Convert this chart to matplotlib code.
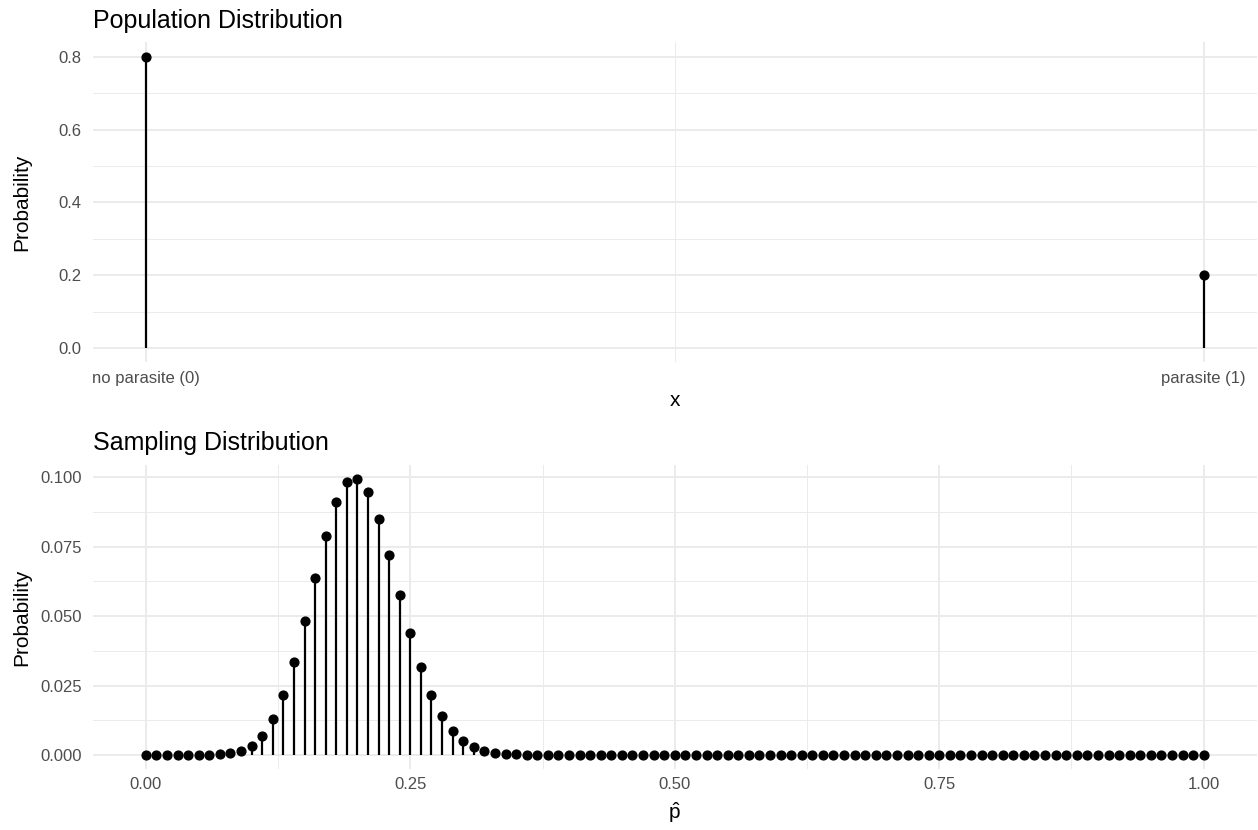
import matplotlib
matplotlib.use("Agg")
from matplotlib import pyplot as plt
from matplotlib.ticker import MultipleLocator, FixedLocator

plt.rcParams['font.family'] = ['Liberation Sans', 'DejaVu Sans']
plt.rcParams['mathtext.fontset'] = 'custom'
plt.rcParams['mathtext.rm'] = 'Liberation Sans'
plt.rcParams['mathtext.it'] = 'Liberation Sans:italic'

# population distribution
pop_x = [0, 1]
pop_prob = [0.8, 0.2]
pop_labels = ["no parasite (0)", "parasite (1)"]

# sampling distribution of p-hat (n = 100)
phat = [k / 100 for k in range(101)]
samp_prob = [
    0.0, 0.0, 0.0, 0.0, 0.0, 0.00002, 0.00006, 0.0002, 0.00058, 0.0015,
    0.0034, 0.0069, 0.0128, 0.0216, 0.0335, 0.0481, 0.0638, 0.0788, 0.0909, 0.0981,
    0.0993, 0.0946, 0.0849, 0.0720, 0.0577, 0.0439, 0.0316, 0.0217, 0.0141, 0.0088,
    0.0052, 0.0029, 0.0016, 0.0008, 0.0004, 0.0002, 0.0001, 0.00004, 0.00002, 0.0,
] + [0.0] * 61

GRID = "#ebebeb"
TXT = "#4d4d4d"


def style(ax):
    for s in ax.spines.values():
        s.set_visible(False)
    ax.set_axisbelow(True)
    ax.grid(which="major", color=GRID, linewidth=1.4)
    ax.grid(which="minor", color=GRID, linewidth=0.7)
    ax.tick_params(which="both", length=0, labelsize=12, labelcolor=TXT)
    ax.tick_params(axis="y", pad=8)
    ax.tick_params(axis="x", pad=6)


fig = plt.figure(figsize=(12.58, 8.3), dpi=100)

ax1 = fig.add_axes([0.0739, 0.5633, 0.925, 0.3855])
ax1.vlines(pop_x, 0, pop_prob, color="black", linewidth=1.6)
ax1.scatter(pop_x, pop_prob, s=40, color="black", zorder=3)
ax1.set_xlim(-0.05, 1.05)
ax1.set_ylim(-0.04, 0.84)
ax1.xaxis.set_major_locator(FixedLocator(pop_x))
ax1.set_xticklabels(pop_labels)
ax1.xaxis.set_minor_locator(FixedLocator([0.5]))
ax1.yaxis.set_major_locator(MultipleLocator(0.2))
ax1.yaxis.set_minor_locator(MultipleLocator(0.1))
ax1.yaxis.set_major_formatter(lambda v, p: f"{v:.1f}")
style(ax1)
ax1.set_xlabel("x", fontsize=15, labelpad=4)
ax1.set_ylabel("Probability", fontsize=15)
ax1.yaxis.set_label_coords(-0.053, 0.5)
ax1.set_title("Population Distribution", loc="left", fontsize=18, pad=10.5)

ax2 = fig.add_axes([0.0739, 0.0737, 0.925, 0.366])
ax2.vlines(phat, 0, samp_prob, color="black", linewidth=1.6)
ax2.scatter(phat, samp_prob, s=40, color="black", zorder=3)
ax2.set_xlim(-0.05, 1.05)
ax2.set_ylim(-0.00497, 0.1043)
ax2.xaxis.set_major_locator(MultipleLocator(0.25))
ax2.xaxis.set_minor_locator(MultipleLocator(0.125))
ax2.yaxis.set_major_locator(MultipleLocator(0.025))
ax2.yaxis.set_minor_locator(MultipleLocator(0.0125))
ax2.xaxis.set_major_formatter(lambda v, p: f"{v:.2f}")
ax2.yaxis.set_major_formatter(lambda v, p: f"{v:.3f}")
style(ax2)
ax2.set_xlabel(r"$\hat{\mathrm{p}}$", fontsize=15, labelpad=6)
ax2.set_ylabel("Probability", fontsize=15)
ax2.yaxis.set_label_coords(-0.053, 0.5)
ax2.set_title("Sampling Distribution", loc="left", fontsize=18, pad=10.5)

fig.savefig("out.png", dpi=100)
